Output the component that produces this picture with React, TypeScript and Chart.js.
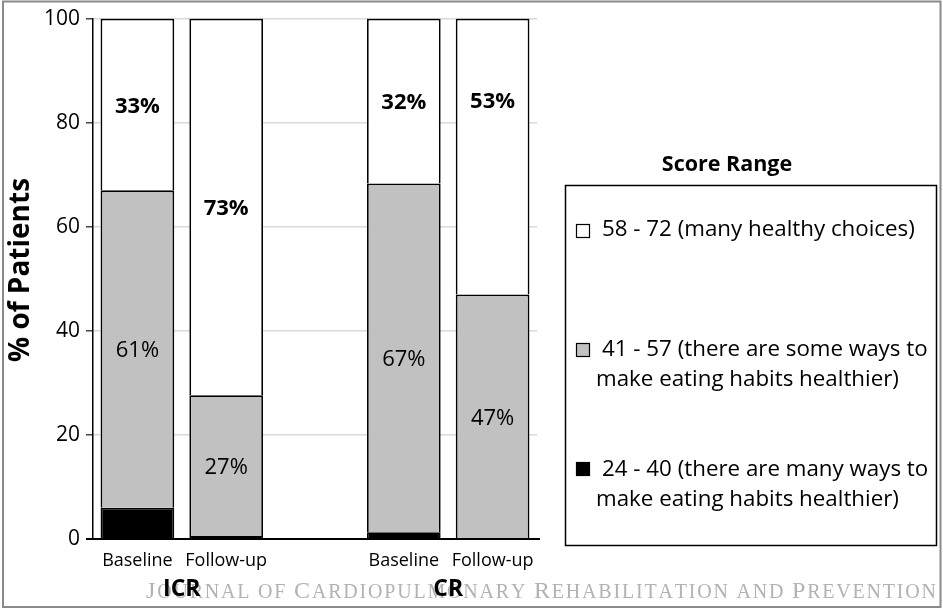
import React, { useEffect, useRef } from 'react';
import { Chart, registerables } from 'chart.js';

Chart.register(...registerables);

// ---- data ----
const categories = ['Baseline', 'Follow-up', '', 'Baseline', 'Follow-up'];
const groups = ['ICR', 'CR'];
const lowScores = [6, 0.6, null, 1.3, null]; // 24 - 40
const midScores = [61, 27, null, 67, 47]; // 41 - 57
const highScores = [33, 72.4, null, 31.7, 53]; // 58 - 72
const midLabels = ['61%', '27%', '', '67%', '47%'];
const highLabels = ['33%', '73%', '', '32%', '53%'];
const yTicks = [0, 20, 40, 60, 80, 100];
const yTitle = '% of Patients';
const legendTitle = 'Score Range';
const legendItems = [
  ['58 - 72 (many healthy choices)'],
  ['41 - 57 (there are some ways to', 'make eating habits healthier)'],
  ['24 - 40 (there are many ways to', 'make eating habits healthier)'],
];
const legendColors = ['#ffffff', '#c1c1c1', '#000000'];
const watermark = 'Journal of Cardiopulmonary Rehabilitation and Prevention';

const F = '"Open Sans", "Liberation Sans", sans-serif';
const SERIF = '"Liberation Serif", "DejaVu Serif", serif';

// label anchor nudges (data units) for high-segment labels
const highLabelAnchor: Record<number, number> = { 4: 84 };

const overlay = {
  id: 'overlay',
  afterDatasetsDraw(chart: any) {
    const ctx = chart.ctx as CanvasRenderingContext2D;
    const yScale = chart.scales.y;
    ctx.save();
    ctx.fillStyle = '#000';
    ctx.textAlign = 'center';
    ctx.textBaseline = 'middle';
    const midMeta = chart.getDatasetMeta(1);
    const hiMeta = chart.getDatasetMeta(2);
    midMeta.data.forEach((el: any, i: number) => {
      if (!midLabels[i]) return;
      ctx.font = `400 22px ${F}`;
      ctx.fillText(midLabels[i], el.x, (el.y + el.base) / 2 + 2);
    });
    hiMeta.data.forEach((el: any, i: number) => {
      if (!highLabels[i]) return;
      ctx.font = `700 22px ${F}`;
      const yy = highLabelAnchor[i] !== undefined ? yScale.getPixelForValue(highLabelAnchor[i]) : (el.y + el.base) / 2 + 2;
      ctx.fillText(highLabels[i], el.x, yy);
    });
    ctx.restore();
  },
  afterDraw(chart: any) {
    const ctx = chart.ctx as CanvasRenderingContext2D;
    const xScale = chart.scales.x;
    const yScale = chart.scales.y;
    ctx.save();

    // x axis line extends left past y axis, as in the reference
    ctx.strokeStyle = '#000';
    ctx.lineWidth = 2;
    ctx.beginPath();
    ctx.moveTo(86, yScale.getPixelForValue(0));
    ctx.lineTo(chart.chartArea.right + 3, yScale.getPixelForValue(0));
    ctx.stroke();

    // y axis title
    ctx.save();
    ctx.translate(21, 270);
    ctx.rotate(-Math.PI / 2);
    ctx.fillStyle = '#000';
    ctx.textAlign = 'center';
    ctx.textBaseline = 'middle';
    ctx.font = `700 28px ${F}`;
    ctx.fillText(yTitle, 0, 0);
    ctx.restore();

    // watermark (small caps drawn manually)
    const bigSize = 24;
    const smallSize = 20;
    const chars = watermark.split('').map((c) => {
      const isUpper = c !== ' ' && c === c.toUpperCase();
      return { ch: c.toUpperCase(), size: isUpper ? bigSize : smallSize };
    });
    let natural = 0;
    const widths = chars.map((c) => {
      ctx.font = `${c.size}px ${SERIF}`;
      const w = ctx.measureText(c.ch).width;
      natural += w;
      return w;
    });
    const wmLeft = 146;
    const wmRight = 936;
    const extra = (wmRight - wmLeft - natural) / (chars.length - 1);
    let cx = wmLeft;
    ctx.fillStyle = '#b2b2b2';
    ctx.textAlign = 'left';
    ctx.textBaseline = 'alphabetic';
    chars.forEach((c, i) => {
      ctx.font = `${c.size}px ${SERIF}`;
      ctx.fillText(c.ch, cx, 598);
      cx += widths[i] + extra;
    });

    // group labels
    ctx.fillStyle = '#000';
    ctx.textAlign = 'center';
    ctx.textBaseline = 'middle';
    ctx.font = `700 23px ${F}`;
    const g0 = (xScale.getPixelForValue(0) + xScale.getPixelForValue(1)) / 2;
    const g1 = (xScale.getPixelForValue(3) + xScale.getPixelForValue(4)) / 2;
    ctx.fillText(groups[0], g0, 589);
    ctx.fillText(groups[1], g1, 589);

    // legend
    ctx.font = `700 21.5px ${F}`;
    ctx.fillText(legendTitle, 727, 165);
    ctx.strokeStyle = '#000';
    ctx.lineWidth = 1.5;
    ctx.strokeRect(565.5, 185.5, 371, 360);
    const itemY = [[230], [350, 380], [470, 500]];
    const markY = [231, 350, 469];
    ctx.textAlign = 'left';
    let fs = 20;
    ctx.font = `400 ${fs}px ${F}`;
    const w0 = ctx.measureText(legendItems[0][0]).width;
    fs = (fs * 313) / w0;
    legendItems.forEach((lines, k) => {
      ctx.fillStyle = legendColors[k];
      ctx.fillRect(576, markY[k] - 7, 14, 14);
      ctx.lineWidth = 1.2;
      ctx.strokeRect(576.5, markY[k] - 6.5, 13, 13);
      ctx.fillStyle = '#000';
      ctx.font = `400 ${fs}px ${F}`;
      lines.forEach((ln, j) => {
        ctx.fillText(ln, j === 0 ? 602 : 596, itemY[k][j]);
      });
    });

    // frame
    ctx.strokeStyle = '#8a8a8a';
    ctx.lineWidth = 2;
    ctx.strokeRect(3, 1.5, 937.5, 605.5);
    ctx.restore();
  },
};

export default function App() {
  const ref = useRef<HTMLCanvasElement>(null);
  useEffect(() => {
    const barCommon = {
      borderColor: '#000',
      borderWidth: { top: 1.8, left: 1.8, right: 1.8, bottom: 0 },
      borderSkipped: false as const,
      categoryPercentage: 1,
      barPercentage: 0.83,
    };
    const chart = new Chart(ref.current!, {
      type: 'bar',
      data: {
        labels: categories,
        datasets: [
          { ...barCommon, label: legendItems[2].join(' '), data: lowScores, backgroundColor: legendColors[2] },
          { ...barCommon, label: legendItems[1].join(' '), data: midScores, backgroundColor: legendColors[1] },
          { ...barCommon, label: legendItems[0].join(' '), data: highScores, backgroundColor: legendColors[0] },
        ],
      },
      options: {
        animation: false,
        responsive: false,
        devicePixelRatio: 1,
        layout: { padding: { left: 0, top: 18, right: 406, bottom: 0 } },
        plugins: { legend: { display: false }, tooltip: { enabled: false } },
        scales: {
          x: {
            stacked: true,
            grid: { display: false, drawTicks: false },
            border: { display: true, color: '#000', width: 2 },
            ticks: { color: '#000', font: { family: F, size: 18 }, padding: 11, maxRotation: 0, autoSkip: false },
            afterFit: (s: any) => {
              s.height = 71;
            },
          },
          y: {
            stacked: true,
            min: 0,
            max: 100,
            afterBuildTicks: (s: any) => {
              s.ticks = yTicks.map((v) => ({ value: v }));
            },
            ticks: { color: '#000', font: { family: F, size: 21 }, padding: 6 },
            grid: { color: '#d9d9d9', lineWidth: 1.5, tickLength: 7, tickColor: '#444' },
            border: { color: '#000', width: 1.5 },
            afterFit: (s: any) => {
              s.width = 93;
            },
          },
        },
      },
      plugins: [overlay],
    });
    return () => chart.destroy();
  }, []);
  return (
    <div style={{ position: 'absolute', left: 0, top: 0, width: 943, height: 610, background: '#fff' }}>
      <canvas ref={ref} width={943} height={610} style={{ width: 943, height: 610, display: 'block' }} />
    </div>
  );
}
